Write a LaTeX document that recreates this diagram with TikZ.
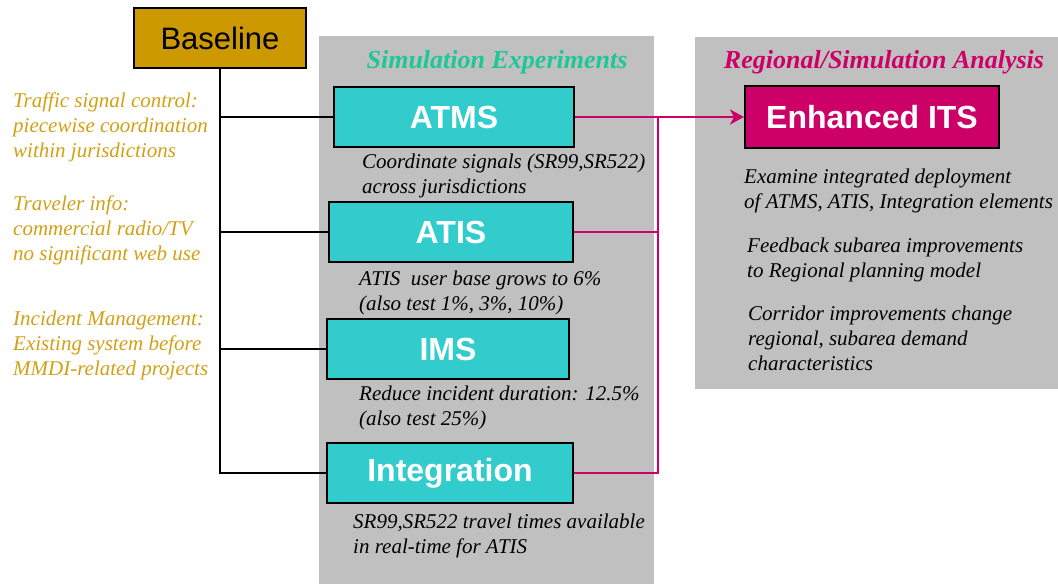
\documentclass[tikz,border=0pt]{standalone}
\usepackage{fontspec}
\setmainfont{Liberation Serif}
\setsansfont{Liberation Sans}
\usetikzlibrary{arrows.meta}
\definecolor{panelgray}{RGB}{192,192,192}
\definecolor{goldfill}{RGB}{204,153,0}
\definecolor{goldtext}{RGB}{210,160,20}
\definecolor{tealfill}{RGB}{51,204,204}
\definecolor{simgreen}{RGB}{30,200,150}
\definecolor{itsmag}{RGB}{204,0,102}
\tikzset{
  box/.style={draw=black, line width=2pt, inner sep=0pt, font=\sffamily\bfseries\fontsize{32}{36}\selectfont, text=white},
  tealbox/.style={box, fill=tealfill},
  lefttxt/.style={anchor=base west, inner sep=0pt, text=goldtext, font=\itshape\fontsize{21}{25}\selectfont},
  captxt/.style={anchor=base west, inner sep=0pt, text=black, font=\itshape\fontsize{21}{25}\selectfont},
  ttl/.style={anchor=base, inner sep=0pt, font=\bfseries\itshape\fontsize{26}{30}\selectfont},
  blk/.style={draw=black, line width=2pt},
  mag/.style={draw=itsmag, line width=2pt},
}
\begin{document}
\begin{tikzpicture}[x=1pt,y=-1pt]
\useasboundingbox (0,0) rectangle (1058,584);
% panels
\fill[panelgray] (319,36) rectangle (654,584);
\fill[panelgray] (695,37) rectangle (1058,389);
% titles
\node[ttl, text=simgreen] (t1) at (497,68) {Simulation Experiments};
\node[ttl, text=itsmag] (t2) at (884,68) {Regional/Simulation Analysis};
% boxes
\node[box, fill=goldfill, text=black, font=\sffamily\fontsize{31}{36}\selectfont, minimum width=172pt, minimum height=60pt] (base) at (220,38) {Baseline};
\node[tealbox, minimum width=240pt, minimum height=60pt] (atms) at (454,117) {ATMS};
\node[tealbox, minimum width=244pt, minimum height=60pt] (atis) at (451,232) {ATIS};
\node[tealbox, minimum width=242pt, minimum height=60pt] (ims) at (448,349) {IMS};
\node[tealbox, minimum width=246pt, minimum height=60pt] (integ) at (450,473) {Integration};
\node[box, fill=itsmag, minimum width=254pt, minimum height=62pt] (its) at (872,117) {Enhanced ITS};
% black connectors
\draw[blk] (base.south) |- (atms.west);
\draw[blk] (base.south) |- (atis.west);
\draw[blk] (base.south) |- (ims.west);
\draw[blk] (base.south) |- (integ.west);
% magenta connectors
\coordinate (j1) at (658,117);
\draw[mag] (atis.east) -- (atis.east -| j1);
\draw[mag] (integ.east) -| (j1);
\draw[mag] (atms.east) -- (j1);
\draw[mag, -{Stealth[length=14pt,width=15pt,inset=4pt]}] (j1) -- (its.west);
% left texts
\node[lefttxt] (l1a) at (13,107) {Traffic signal control:};
\node[lefttxt] (l1b) at (13,132) {piecewise coordination};
\node[lefttxt] (l1c) at (13,157) {within jurisdictions};
\node[lefttxt] (l2a) at (13,210) {Traveler info:};
\node[lefttxt] (l2b) at (13,235) {commercial radio/TV};
\node[lefttxt] (l2c) at (13,260) {no significant web use};
\node[lefttxt] (l3a) at (13,325) {Incident Management:};
\node[lefttxt] (l3b) at (13,350) {Existing system before};
\node[lefttxt] (l3c) at (13,375) {MMDI-related projects};
% captions
\node[captxt] (c1a) at (362,168) {Coordinate signals (SR99,SR522)};
\node[captxt] (c1b) at (362,193) {across jurisdictions};
\node[captxt] (c2a) at (359,285) {ATIS\ \ user base grows to 6\%};
\node[captxt] (c2b) at (359,310) {(also test 1\%, 3\%, 10\%)};
\node[captxt] (c3a) at (359,400) {Reduce incident duration: 12.5\%};
\node[captxt] (c3b) at (359,425) {(also test 25\%)};
\node[captxt] (c4a) at (353,528) {SR99,SR522 travel times available};
\node[captxt] (c4b) at (353,553) {in real-time for ATIS};
\node[captxt] (r1a) at (744,183) {Examine integrated deployment};
\node[captxt] (r1b) at (744,208) {of ATMS, ATIS, Integration elements};
\node[captxt] (r2a) at (747,252) {Feedback subarea improvements};
\node[captxt] (r2b) at (747,277) {to Regional planning model};
\node[captxt] (r3a) at (748,320) {Corridor improvements change};
\node[captxt] (r3b) at (748,345) {regional, subarea demand};
\node[captxt] (r3c) at (748,370) {characteristics};
\end{tikzpicture}
\end{document}
